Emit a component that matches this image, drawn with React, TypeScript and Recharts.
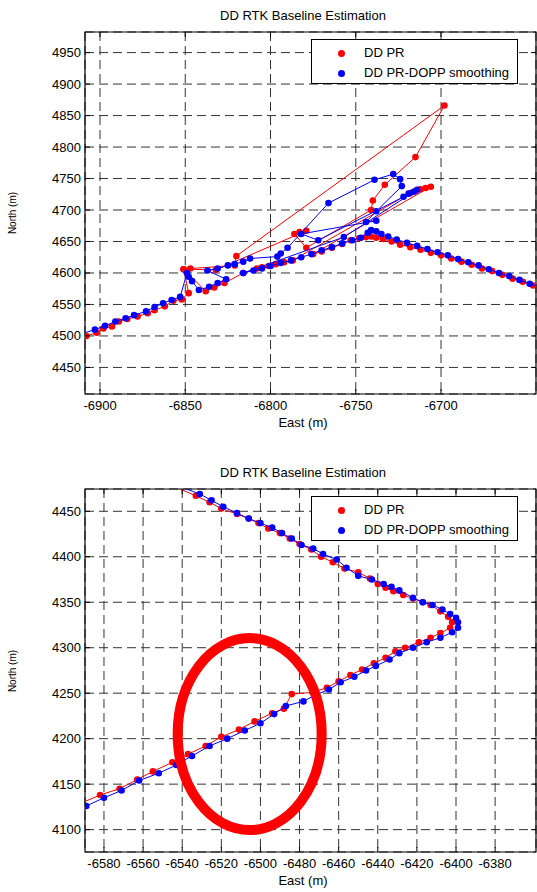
import React from "react";
import { ScatterChart, Scatter, XAxis, YAxis, CartesianGrid, ReferenceArea } from "recharts";

// ---- Data ------------------------------------------------------------------
const seriesNames = ["DD PR", "DD PR-DOPP smoothing"];

// upper panel (East, North in metres)
const prTopEast = [
  -6915, -6908, -6902, -6898, -6893, -6889, -6884, -6878, -6872, -6868, -6862, -6857, -6852, -6848,
  -6851, -6847, -6821, -6820, -6698, -6715, -6733, -6740, -6741, -6779, -6786, -6783, -6779, -6832,
  -6851, -6838, -6833, -6827, -6816, -6808, -6805, -6801, -6797, -6792, -6787, -6718, -6715, -6712,
  -6709, -6706, -6775, -6770, -6764, -6758, -6753, -6748, -6744, -6741, -6738, -6734, -6729, -6724,
  -6718, -6712, -6706, -6700, -6694, -6688, -6682, -6676, -6670, -6664, -6658, -6652, -6646, -6638,
];
const prTopNorth = [
  4494, 4500, 4505, 4512, 4515, 4523, 4527, 4531, 4536, 4541, 4547, 4556, 4558, 4568,
  4606, 4607, 4612, 4627, 4866, 4784, 4740, 4715, 4700, 4640, 4662, 4665, 4667, 4605,
  4606, 4571, 4577, 4584, 4600, 4607, 4609, 4611, 4614, 4617, 4620, 4727, 4730, 4733,
  4735, 4737, 4630, 4634, 4640, 4646, 4652, 4655, 4657, 4658, 4656, 4654, 4650, 4645,
  4641, 4637, 4632, 4628, 4623, 4618, 4613, 4607, 4603, 4597, 4591, 4586, 4580, 4573,
];
const smTopEast = [
  -6915, -6903, -6897, -6891, -6885, -6880, -6873, -6868, -6863, -6858, -6853,
  -6849, -6848, -6846, -6842, -6836, -6831, -6826,
  -6837, -6831, -6825, -6821, -6816, -6812, -6796, -6794, -6790,
  -6766, -6739, -6728, -6724, -6723, -6738, -6744, -6738, -6782, -6772,
  -6722, -6719, -6716, -6714, -6757,
  -6816, -6810, -6805, -6800, -6794, -6788, -6782, -6776, -6770, -6764, -6758, -6752, -6747,
  -6743, -6741, -6738, -6735, -6731, -6726, -6720, -6714, -6708, -6702, -6696, -6690, -6684,
  -6678, -6672, -6666, -6660, -6654, -6648, -6642, -6634,
];
const smTopNorth = [
  4500, 4510, 4516, 4523, 4528, 4533, 4539, 4546, 4552, 4557, 4562,
  4600, 4594, 4587, 4573, 4578, 4584, 4590,
  4604, 4607, 4612, 4614, 4618, 4623, 4626, 4631, 4640,
  4711, 4748, 4757, 4749, 4738, 4698, 4681, 4683, 4662, 4652,
  4721, 4726, 4729, 4732, 4657,
  4600, 4604, 4607, 4611, 4616, 4620, 4625, 4630, 4636, 4641, 4647, 4652, 4656,
  4664, 4668, 4666, 4662, 4658, 4653, 4648, 4643, 4638, 4633, 4628, 4622, 4617,
  4612, 4606, 4600, 4595, 4589, 4583, 4578, 4571,
];

// lower panel
const prBotEast = [
  -6546, -6533, -6526, -6520, -6512, -6506, -6501, -6496, -6490, -6485, -6480, -6474, -6469, -6463,
  -6457, -6450, -6444, -6440, -6436, -6432, -6427, -6422, -6417, -6413, -6408, -6404, -6402, -6403,
  -6408, -6413, -6419, -6426, -6431, -6436, -6442, -6448, -6454, -6460, -6466, -6473, -6484, -6488,
  -6494, -6503, -6511, -6520, -6528, -6537, -6545, -6555, -6563, -6572, -6582, -6594,
];
const prBotNorth = [
  4479, 4467, 4460, 4453, 4447, 4442, 4437, 4431, 4426, 4420, 4414, 4408, 4400, 4394,
  4387, 4383, 4376, 4370, 4366, 4362, 4358, 4354, 4350, 4347, 4340, 4334, 4328, 4322,
  4316, 4311, 4306, 4300, 4296, 4289, 4283, 4276, 4270, 4263, 4256, 4251, 4249, 4233,
  4228, 4219, 4210, 4202, 4192, 4183, 4174, 4164, 4155, 4145, 4138, 4127,
];
const smBotEast = [
  -6546, -6531, -6525, -6519, -6512, -6506, -6500, -6494, -6489, -6484, -6479, -6473, -6468, -6461,
  -6456, -6450, -6443, -6437, -6433, -6429, -6422, -6417, -6412, -6407, -6403, -6400, -6399, -6399,
  -6402, -6408, -6415, -6422, -6429, -6434, -6441, -6446, -6452, -6459, -6465, -6472, -6478, -6487,
  -6493, -6500, -6508, -6517, -6526, -6535, -6543, -6552, -6562, -6571, -6580, -6589, -6596,
];
const smBotNorth = [
  4481, 4469, 4462, 4455, 4448, 4442, 4437, 4432, 4426, 4420, 4413, 4409, 4403, 4397,
  4388, 4379, 4375, 4370, 4367, 4363, 4355, 4350, 4347, 4342, 4337, 4333, 4328, 4322,
  4317, 4311, 4306, 4300, 4294, 4287, 4280, 4275, 4268, 4262, 4254, 4248, 4241, 4236,
  4227, 4217, 4209, 4200, 4192, 4181, 4171, 4162, 4154, 4143, 4135, 4126, 4120,
];

// the circled spot in the lower panel (centre, East/North)
const markEast = [-6505.5];
const markNorth = [4205];

const topXTicks = [-6900, -6850, -6800, -6750, -6700];
const topYTicks = [4450, 4500, 4550, 4600, 4650, 4700, 4750, 4800, 4850, 4900, 4950];
const botXTicks = [-6580, -6560, -6540, -6520, -6500, -6480, -6460, -6440, -6420, -6400, -6380];
const botYTicks = [4100, 4150, 4200, 4250, 4300, 4350, 4400, 4450];

const zip = (e: number[], n: number[]) => e.map((v, i) => ({ e: v, n: n[i] }));

// ---------------------------------------------------------------------------
const FONT = '"Liberation Sans", Arial, sans-serif';
const W = 537;
const H = 446;
const RED = "#ff0000";
const BLUE = "#0000ff";
const X_AXIS_H = 40;
const Y_AXIS_W = 85;

type Panel = {
  top: number;
  plotTop: number; // px inside the panel
  plotBottom: number;
  plotLeft: number;
  pr: { e: number; n: number }[];
  sm: { e: number; n: number }[];
  xDomain: [number, number];
  yDomain: [number, number];
  xTicks: number[];
  yTicks: number[];
  mark?: { e: number; n: number }[];
};

const dot = (color: string) => (p: any) =>
  p.cx == null ? <g /> : <circle cx={p.cx} cy={p.cy} r={3.3} fill={color} />;

const ellipse = (p: any) =>
  p.cx == null ? <g /> : (
    <ellipse cx={p.cx} cy={p.cy} rx={72} ry={96} fill="none" stroke={RED} strokeWidth={10} />
  );

function PanelChart({ panel }: { panel: Panel }) {
  const plotTop = panel.plotTop;
  const plotBottom = panel.plotBottom;
  const plotLeft = panel.plotLeft;
  const plotRight = W - 1;
  const margin = {
    top: plotTop,
    right: 1,
    left: plotLeft - Y_AXIS_W,
    bottom: H - plotBottom - X_AXIS_H,
  };

  const xTick = (p: any) => (
    <g>
      <line x1={p.x} x2={p.x} y1={plotBottom} y2={plotBottom - 5} stroke="#000" />
      <line x1={p.x} x2={p.x} y1={plotTop} y2={plotTop + 5} stroke="#000" />
      <text x={p.x} y={plotBottom + 15.5} textAnchor="middle" fontSize={13} fontFamily={FONT} fill="#000">
        {String(p.payload.value)}
      </text>
    </g>
  );
  const yTick = (p: any) => (
    <g>
      <line x1={plotLeft} x2={plotLeft + 5} y1={p.y} y2={p.y} stroke="#000" />
      <line x1={plotRight} x2={plotRight - 5} y1={p.y} y2={p.y} stroke="#000" />
      <text x={plotLeft - 4} y={p.y + 4.5} textAnchor="end" fontSize={13} fontFamily={FONT} fill="#000">
        {String(p.payload.value)}
      </text>
    </g>
  );

  return (
    <div style={{ position: "absolute", left: 0, top: panel.top, width: W, height: H }}>
      <ScatterChart width={W} height={H} margin={margin}>
        <CartesianGrid stroke="#333" strokeDasharray="9 5" />
        <XAxis
          dataKey="e"
          type="number"
          domain={panel.xDomain}
          ticks={panel.xTicks}
          allowDataOverflow
          height={X_AXIS_H}
          tickLine={false}
          axisLine={false}
          tick={xTick}
          interval={0}
        />
        <YAxis
          dataKey="n"
          type="number"
          domain={panel.yDomain}
          ticks={panel.yTicks}
          allowDataOverflow
          width={Y_AXIS_W}
          tickLine={false}
          axisLine={false}
          tick={yTick}
          interval={0}
        />
        <Scatter
          name={seriesNames[0]}
          data={panel.pr}
          line={{ stroke: RED, strokeWidth: 1 }}
          lineType="joint"
          shape={dot(RED)}
          isAnimationActive={false}
        />
        <Scatter
          name={seriesNames[1]}
          data={panel.sm}
          line={{ stroke: BLUE, strokeWidth: 1 }}
          lineType="joint"
          shape={dot(BLUE)}
          isAnimationActive={false}
        />
        {panel.mark && (
          <Scatter data={panel.mark} shape={ellipse} isAnimationActive={false} />
        )}
        <ReferenceArea
          x1={panel.xDomain[0]}
          x2={panel.xDomain[1]}
          y1={panel.yDomain[0]}
          y2={panel.yDomain[1]}
          fill="none"
          fillOpacity={0}
          stroke="#000"
          strokeWidth={1.2}
          ifOverflow="extendDomain"
        />
      </ScatterChart>

      {/* title */}
      <div style={{ ...txt, left: 303, top: plotTop - 24, transform: "translateX(-50%)" }}>
        DD RTK Baseline Estimation
      </div>
      {/* x label */}
      <div style={{ ...txt, left: 303, top: plotBottom + 21, transform: "translateX(-50%)" }}>
        East (m)
      </div>
      {/* y label */}
      <div
        style={{
          ...txt,
          fontSize: 10,
          left: 12,
          top: (plotTop + plotBottom) / 2,
          transform: "translate(-50%, -50%) rotate(-90deg)",
        }}
      >
        North (m)
      </div>
      {/* legend */}
      <div
        style={{
          position: "absolute",
          left: 311,
          top: plotTop + 7,
          width: 205,
          height: 43,
          border: "1px solid #000",
          background: "#fff",
          fontFamily: FONT,
          fontSize: 13,
        }}
      >
        {seriesNames.map((name, i) => (
          <div key={name} style={{ position: "absolute", left: 0, top: 5 + i * 20, height: 16, width: "100%" }}>
            <span
              style={{
                position: "absolute",
                left: 26,
                top: 4.5,
                width: 7,
                height: 7,
                borderRadius: "50%",
                background: i === 0 ? RED : BLUE,
              }}
            />
            <span style={{ position: "absolute", left: 52, top: 0, lineHeight: "16px", whiteSpace: "nowrap" }}>
              {name}
            </span>
          </div>
        ))}
      </div>
    </div>
  );
}

const txt: React.CSSProperties = {
  position: "absolute",
  fontFamily: FONT,
  fontSize: 13,
  lineHeight: "15px",
  whiteSpace: "nowrap",
  color: "#000",
};

const panels: Panel[] = [
  {
    top: 0,
    plotTop: 32,
    plotBottom: 394,
    plotLeft: 85,
    pr: zip(prTopEast, prTopNorth),
    sm: zip(smTopEast, smTopNorth),
    xDomain: [-6908.8, -6644.3],
    yDomain: [4407.8, 4982.7],
    xTicks: topXTicks,
    yTicks: topYTicks,
  },
  {
    top: 446,
    plotTop: 43,
    plotBottom: 406,
    plotLeft: 85,
    pr: zip(prBotEast, prBotNorth),
    sm: zip(smBotEast, smBotNorth),
    xDomain: [-6589.7, -6359.1],
    yDomain: [4075.4, 4474.5],
    xTicks: botXTicks,
    yTicks: botYTicks,
    mark: zip(markEast, markNorth),
  },
];

export default function App() {
  return (
    <div style={{ position: "absolute", left: 0, top: 0, width: W, height: 892, background: "#fff" }}>
      {panels.map((p, i) => (
        <PanelChart key={i} panel={p} />
      ))}
    </div>
  );
}
